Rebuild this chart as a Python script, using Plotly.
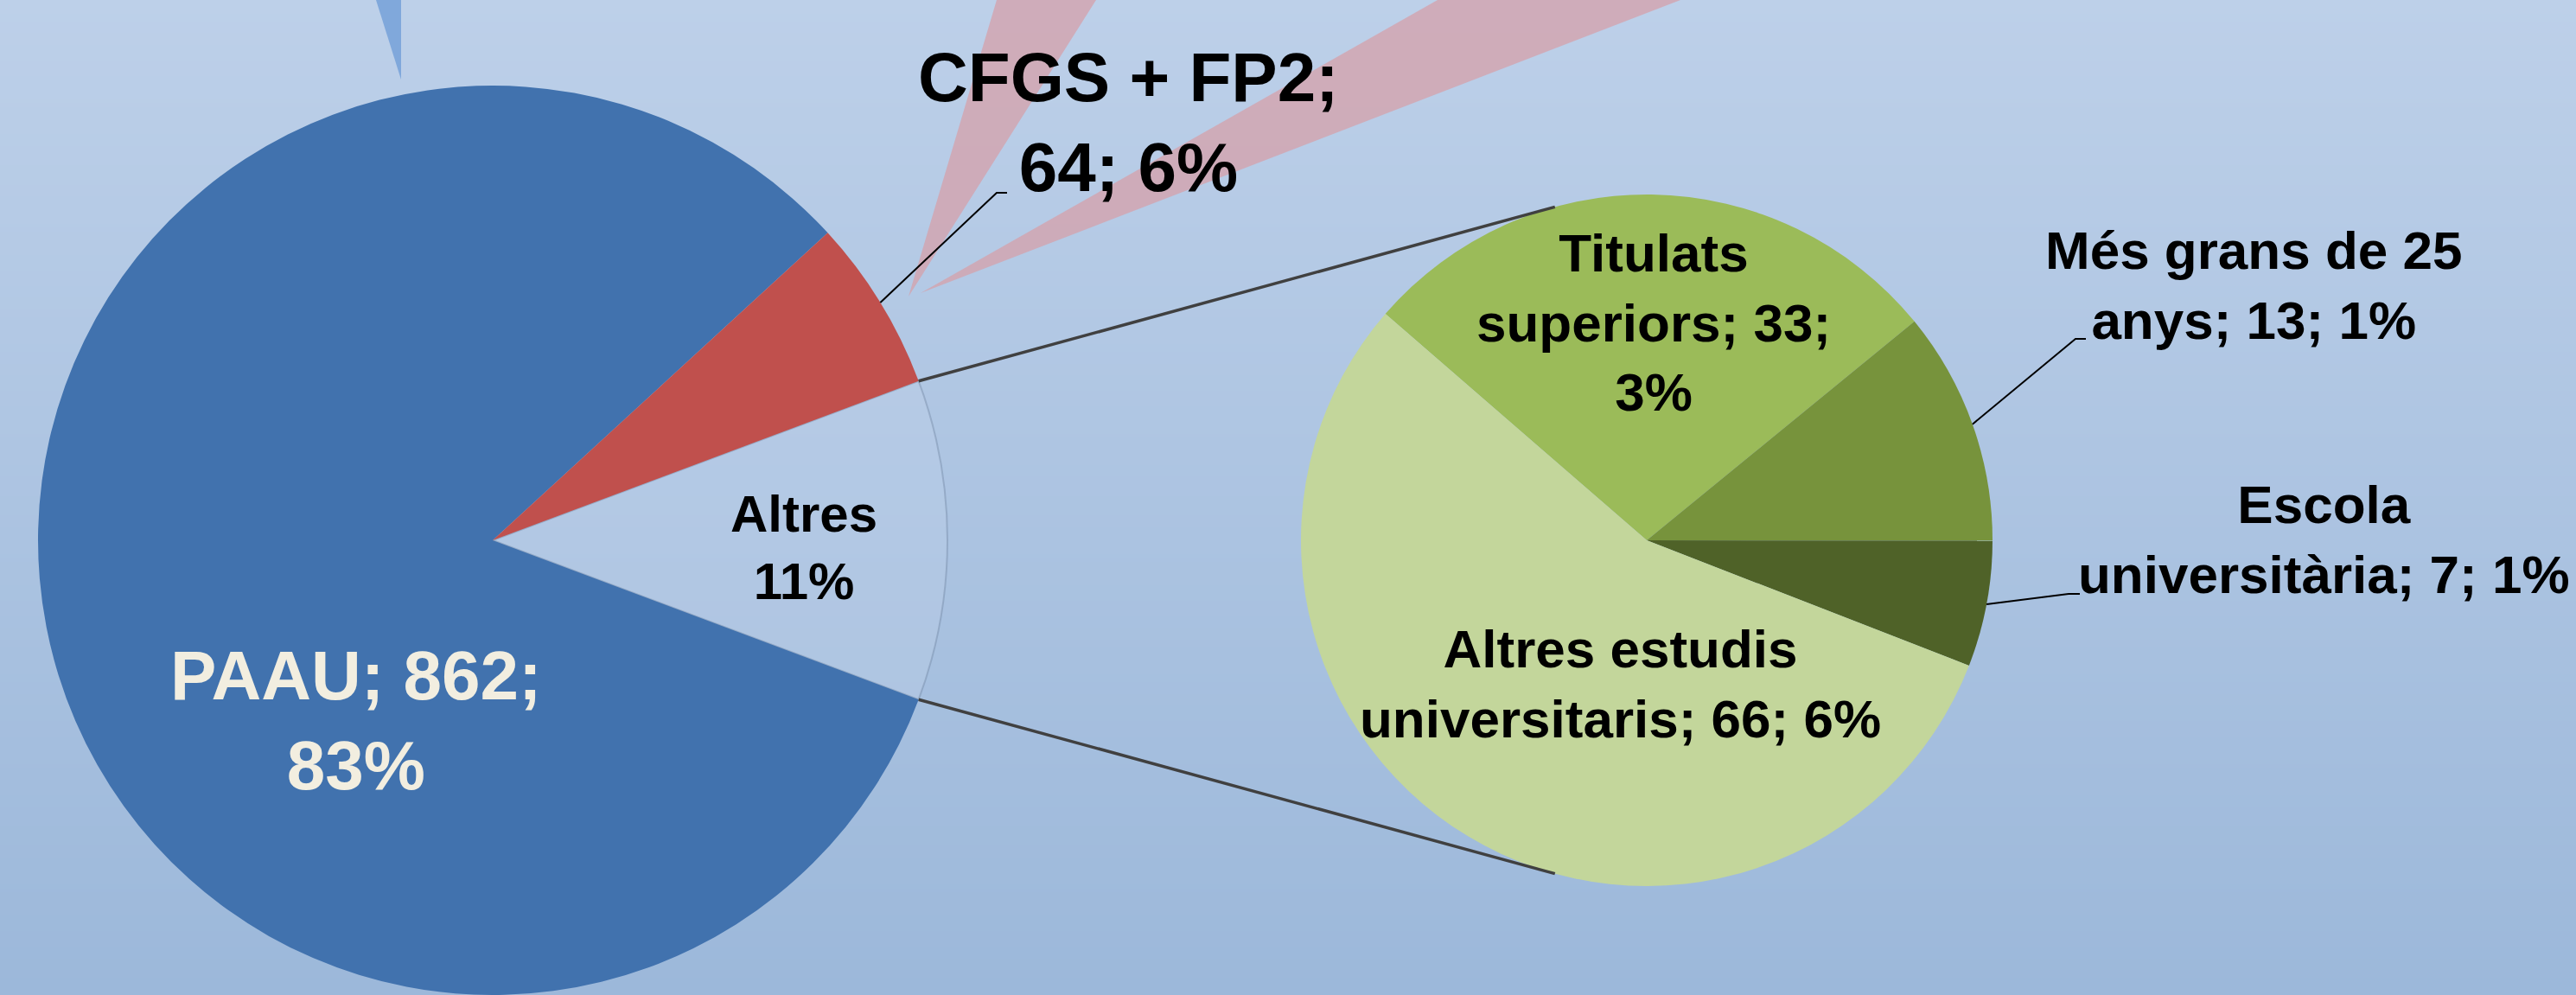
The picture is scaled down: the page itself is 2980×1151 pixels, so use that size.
import base64
import math
import struct
import zlib

import plotly.graph_objects as go

W, H = 2980, 1151

# ==== Data ====
main_labels = ["Altres", "PAAU", "CFGS + FP2"]
main_pcts = [11, 83, 6]
paau_value = 862
cfgs_value = 64

sub_labels = ["Titulats<br>superiors", "Més grans de 25<br>anys", "Escola<br>universitària", "Altres estudis<br>universitaris"]
sub_values = [33, 13, 7, 66]
sub_pcts = [3, 1, 1, 6]

main_values = [sum(sub_values), paau_value, cfgs_value]

# how each data label is laid out
main_templates = ["{l}<br>{p}%", "{l}; {v};<br>{p}%", "{l};<br>{v}; {p}%"]
sub_templates = ["{l}; {v};<br>{p}%", "{l}; {v}; {p}%", "{l}; {v}; {p}%", "{l}; {v}; {p}%"]

main_colors = ["rgba(196,212,236,0.3)", "#4172ae", "#c0504d"]
sub_colors = ["#9bbb59", "#77933c", "#4f6228", "#c3d69b"]

font_family = "Liberation Sans, Arial, sans-serif"


def paper(x, y):
    return x / W, 1 - y / H


def gradient_png(top, bottom, n=256):
    rows = []
    for i in range(n):
        t = i / (n - 1)
        rgb = bytes(round(a + (b - a) * t) for a, b in zip(top, bottom))
        rows.append(b"\x00" + rgb * 2)
    raw = b"".join(rows)

    def chunk(tag, data):
        return struct.pack(">I", len(data)) + tag + data + struct.pack(">I", zlib.crc32(tag + data) & 0xFFFFFFFF)

    png = (b"\x89PNG\r\n\x1a\n"
           + chunk(b"IHDR", struct.pack(">IIBBBBB", 2, n, 8, 2, 0, 0, 0))
           + chunk(b"IDAT", zlib.compress(raw))
           + chunk(b"IEND", b""))
    return "data:image/png;base64," + base64.b64encode(png).decode()


# ==== Geometry of the two pies (pixels) ====
main_cx, main_cy, main_r = 570, 625, 526
sub_cx, sub_cy, sub_r = 1905, 625, 400

total = sum(main_values)
altres_span = 360.0 * main_values[0] / total
main_rotation = 90 - altres_span / 2  # "Altres" centred on 3 o'clock
sub_rotation = -49.1


def domain(cx, cy, r):
    x0, y1 = paper(cx - r, cy - r)
    x1, y0 = paper(cx + r, cy + r)
    return dict(x=[max(0, x0), min(1, x1)], y=[max(0, y0), min(1, y1)])


def on_circle(cx, cy, r, math_deg):
    a = math.radians(math_deg)
    return cx + r * math.cos(a), cy - r * math.sin(a)


def mid_angle(values, idx, rotation):
    start = sum(values[:idx]) / sum(values) * 360 + rotation
    span = values[idx] / sum(values) * 360
    return 90 - (start + span / 2)


fig = go.Figure()

fig.add_trace(go.Pie(
    labels=main_labels,
    values=main_values,
    sort=False,
    direction="clockwise",
    rotation=main_rotation,
    textinfo="none",
    marker=dict(colors=main_colors,
                line=dict(color=["rgba(100,120,150,0.35)", "rgba(0,0,0,0)", "rgba(0,0,0,0)"], width=[2, 0, 0])),
    domain=domain(main_cx, main_cy, main_r),
    showlegend=False,
))

fig.add_trace(go.Pie(
    labels=[l.replace("<br>", " ") for l in sub_labels],
    values=sub_values,
    sort=False,
    direction="clockwise",
    rotation=sub_rotation,
    textinfo="none",
    marker=dict(colors=sub_colors, line=dict(width=0)),
    domain=domain(sub_cx, sub_cy, sub_r),
    showlegend=False,
))

shapes = []

# decorative reflections at the top
def poly(points, color):
    pts = [paper(x, y) for x, y in points]
    path = "M " + " L ".join(f"{x:.5f},{y:.5f}" for x, y in pts) + " Z"
    return dict(type="path", xref="paper", yref="paper", path=path,
                fillcolor=color, line=dict(width=0), layer="below")


shapes.append(poly([(435, 0), (464, 0), (464, 92)], "#80a8db"))
shapes.append(poly([(1051, 343), (1153, 0), (1268, 0)], "rgba(214,160,170,0.75)"))
shapes.append(poly([(1065, 339), (1663, 0), (1944, 0)], "rgba(214,160,170,0.75)"))

# connector lines between the "Altres" slice and the secondary pie
a_top = 90 - main_rotation
a_bot = a_top - altres_span
for a_main, a_sub in [(a_top, 105.4), (a_bot, -105.4)]:
    x0, y0 = paper(*on_circle(main_cx, main_cy, main_r, a_main))
    x1, y1 = paper(*on_circle(sub_cx, sub_cy, sub_r, a_sub))
    shapes.append(dict(type="line", xref="paper", yref="paper", x0=x0, y0=y0, x1=x1, y1=y1,
                       line=dict(color="#404040", width=3.5)))

# leader lines for labels placed outside
leaders = [
    (on_circle(main_cx, main_cy, main_r, mid_angle(main_values, 2, main_rotation)), (1153, 223), (1165, 223)),
    (on_circle(sub_cx, sub_cy, sub_r, mid_angle(sub_values, 1, sub_rotation)), (2401, 392), (2413, 392)),
    (on_circle(sub_cx, sub_cy, sub_r, mid_angle(sub_values, 2, sub_rotation)), (2393, 687), (2406, 687)),
]
for pts in leaders:
    p = [paper(x, y) for x, y in pts]
    path = "M " + " L ".join(f"{x:.5f},{y:.5f}" for x, y in p)
    shapes.append(dict(type="path", xref="paper", yref="paper", path=path,
                       line=dict(color="#000000", width=2)))

# ==== Data labels ====
main_pos = [(930, 633), (412, 833), (1305, 141)]
main_sizes = [60, 80, 80]
main_font_colors = ["#000000", "#f2eee0", "#000000"]
sub_pos = [(1913, 373), (2607, 330), (2688, 624), (1874, 791)]

annotations = []
for i, lab in enumerate(main_labels):
    text = main_templates[i].format(l=lab, v=main_values[i], p=main_pcts[i])
    x, y = paper(*main_pos[i])
    annotations.append(dict(x=x, y=y, xref="paper", yref="paper", text=text, showarrow=False,
                            xanchor="center", yanchor="middle", align="center",
                            font=dict(family=font_family, size=main_sizes[i], color=main_font_colors[i], weight="bold")))
for i, lab in enumerate(sub_labels):
    text = sub_templates[i].format(l=lab, v=sub_values[i], p=sub_pcts[i])
    x, y = paper(*sub_pos[i])
    annotations.append(dict(x=x, y=y, xref="paper", yref="paper", text=text, showarrow=False,
                            xanchor="center", yanchor="middle", align="center",
                            font=dict(family=font_family, size=62, color="#000000", weight="bold")))

fig.update_layout(
    width=W,
    height=H,
    margin=dict(l=0, r=0, t=0, b=0),
    paper_bgcolor="#aec4e2",
    plot_bgcolor="rgba(0,0,0,0)",
    showlegend=False,
    shapes=shapes,
    annotations=annotations,
    images=[dict(source=gradient_png((189, 208, 233), (156, 184, 218)),
                 xref="paper", yref="paper", x=0, y=1, sizex=1, sizey=1,
                 xanchor="left", yanchor="top", sizing="stretch", layer="below")],
)

# drop the browser's default page margin so the chart fills the window
fig.write_html("out.html", config={"displayModeBar": False},
               post_script="document.body.style.margin='0px';")
